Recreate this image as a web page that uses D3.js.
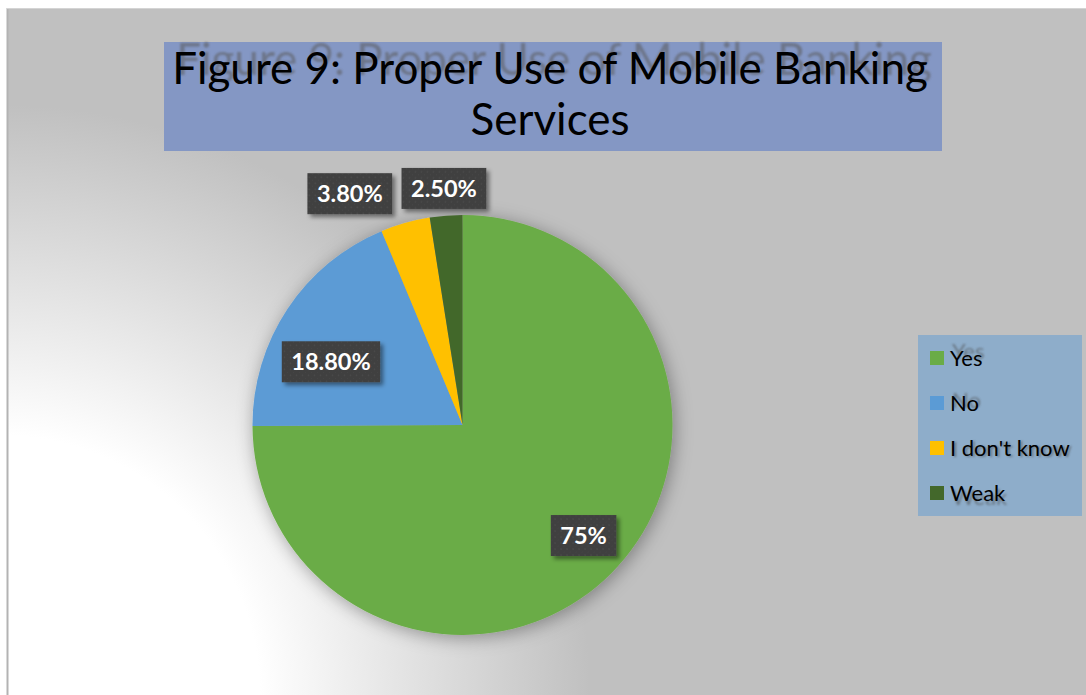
<!DOCTYPE html>
<html>
<head>
<meta charset="utf-8">
<script src="https://cdn.jsdelivr.net/npm/d3@7/dist/d3.min.js"></script>
<style>
  html, body { margin: 0; padding: 0; background: #ffffff; }
  svg { display: block; }
</style>
</head>
<body>
<svg id="chart" width="1086" height="695"></svg>
<script>
// Survey answers: proper use of mobile banking services
const categories = ["Yes", "No", "I don't know", "Weak"];
const values = [75, 18.8, 3.8, 2.5];
const valueLabels = ["75%", "18.80%", "3.80%", "2.50%"];
const sliceColors = ["#6aac46", "#5b9bd5", "#ffc000", "#43682b"];
const titleLines = ["Figure 9: Proper Use of Mobile Banking", "Services"];

// label placement: radial position as a fraction of the radius, plus a nudge
const labelRadius = [0.78, 0.70, 1.13, 1.13];
const labelNudge = [[5, -5], [-9, 18], [-48, -3], [0, 0]];
// offset of the soft perspective shadow under each legend entry
const legendShadowDy = [-6.5, -2.5, 1, 4];

const W = 1086, H = 695;
const svg = d3.select("#chart");
const defs = svg.append("defs");

// background: radial fade from white (lower left) to grey
const bg = defs.append("radialGradient")
  .attr("id", "bgGrad")
  .attr("gradientUnits", "userSpaceOnUse")
  .attr("cx", 0).attr("cy", H).attr("r", 590);
bg.append("stop").attr("offset", 0).attr("stop-color", "#ffffff");
bg.append("stop").attr("offset", 0.44).attr("stop-color", "#ffffff");
bg.append("stop").attr("offset", 1).attr("stop-color", "#c0c0c0");

// soft halo around the pie
const halo = defs.append("filter").attr("id", "pieHalo")
  .attr("x", "-20%").attr("y", "-20%").attr("width", "140%").attr("height", "140%");
halo.append("feDropShadow").attr("dx", 2).attr("dy", 3)
  .attr("stdDeviation", 9).attr("flood-color", "#000").attr("flood-opacity", 0.35);

// shadow under the value boxes
const boxShadow = defs.append("filter").attr("id", "boxShadow")
  .attr("x", "-20%").attr("y", "-30%").attr("width", "150%").attr("height", "170%");
boxShadow.append("feDropShadow").attr("dx", 3).attr("dy", 3)
  .attr("stdDeviation", 2.2).attr("flood-color", "#000").attr("flood-opacity", 0.45);

// blurred ghost copy of text
const ghost = defs.append("filter").attr("id", "ghostBlur")
  .attr("x", "-5%").attr("y", "-30%").attr("width", "110%").attr("height", "160%");
ghost.append("feGaussianBlur").attr("stdDeviation", 1.3);

// fine dotted texture for the value boxes
const pat = defs.append("pattern").attr("id", "boxTex")
  .attr("patternUnits", "userSpaceOnUse").attr("width", 6).attr("height", 6);
pat.append("rect").attr("width", 6).attr("height", 6).attr("fill", "#3f3f3f");
pat.append("circle").attr("cx", 1.5).attr("cy", 1.5).attr("r", 1).attr("fill", "#4b4b4b");
pat.append("circle").attr("cx", 4.5).attr("cy", 4.5).attr("r", 0.8).attr("fill", "#474747");

// chart area
svg.append("rect")
  .attr("x", 8).attr("y", 8).attr("width", W - 8).attr("height", H - 8)
  .attr("fill", "url(#bgGrad)");
svg.append("line").attr("x1", 7.5).attr("x2", 7.5).attr("y1", 8).attr("y2", H)
  .attr("stroke", "#b3b3b3").attr("stroke-width", 2);
svg.append("line").attr("x1", 7).attr("x2", W).attr("y1", 8.5).attr("y2", 8.5)
  .attr("stroke", "#d4d4d4").attr("stroke-width", 1);

// title block
const titleBox = { x: 164, y: 42, w: 778, h: 109 };
svg.append("rect")
  .attr("x", titleBox.x).attr("y", titleBox.y)
  .attr("width", titleBox.w).attr("height", titleBox.h)
  .attr("fill", "#8497c4");
const titleCx = titleBox.x + titleBox.w / 2 - 3;
const titleFont = "Lato, 'Open Sans', sans-serif";
const titleSize = 44;
svg.append("text")
  .attr("x", titleCx + 4).attr("y", 84 - 9)
  .attr("text-anchor", "middle")
  .attr("font-family", titleFont).attr("font-size", titleSize)
  .attr("fill", "#5a5a5a").attr("opacity", 0.55)
  .attr("filter", "url(#ghostBlur)")
  .text(titleLines[0]);
svg.selectAll("text.title").data(titleLines).enter().append("text")
  .attr("class", "title")
  .attr("x", titleCx)
  .attr("y", (d, i) => 84 + i * 51)
  .attr("text-anchor", "middle")
  .attr("font-family", titleFont).attr("font-size", titleSize)
  .attr("fill", "#000000")
  .text(d => d);

// pie
const cx = 462.5, cy = 425, r = 210;
const pie = d3.pie().sort(null).value(d => d);
const arcs = pie(values);
const arc = d3.arc().innerRadius(0).outerRadius(r);
const color = d3.scaleOrdinal().domain(categories).range(sliceColors);

const pieG = svg.append("g").attr("transform", `translate(${cx},${cy})`);
pieG.append("g").attr("filter", "url(#pieHalo)")
  .selectAll("path").data(arcs).enter().append("path")
  .attr("d", arc)
  .attr("fill", (d, i) => color(categories[i]));

// value labels
const labelG = pieG.selectAll("g.lbl").data(arcs).enter().append("g")
  .attr("class", "lbl")
  .attr("transform", (d, i) => {
    const a = (d.startAngle + d.endAngle) / 2;
    const rr = r * labelRadius[i];
    const x = Math.sin(a) * rr + labelNudge[i][0];
    const y = -Math.cos(a) * rr + labelNudge[i][1];
    return `translate(${x},${y})`;
  });
labelG.each(function (d, i) {
  const g = d3.select(this);
  const t = g.append("text")
    .attr("text-anchor", "middle").attr("dy", "0.37em")
    .attr("font-family", titleFont).attr("font-weight", 700)
    .attr("font-size", 23.5).attr("fill", "#ffffff")
    .text(valueLabels[i]);
  const tw = t.node().getComputedTextLength();
  const bw = tw + 19, bh = 41;
  g.insert("rect", "text")
    .attr("x", -bw / 2).attr("y", -bh / 2)
    .attr("width", bw).attr("height", bh)
    .attr("fill", "url(#boxTex)")
    .attr("filter", "url(#boxShadow)");
});

// legend
const legBox = { x: 918, y: 335, w: 164, h: 181 };
svg.append("rect")
  .attr("x", legBox.x).attr("y", legBox.y)
  .attr("width", legBox.w).attr("height", legBox.h)
  .attr("fill", "#8eadca");
const legY = d3.scalePoint().domain(categories).range([358, 493]);
const legSize = 22;
const legG = svg.selectAll("g.leg").data(categories).enter().append("g")
  .attr("class", "leg")
  .attr("transform", d => `translate(930,${legY(d)})`);
legG.append("rect")
  .attr("x", 0).attr("y", -7).attr("width", 14).attr("height", 14)
  .attr("fill", d => color(d));
legG.append("text")
  .attr("x", 20 + 2).attr("y", (d, i) => legendShadowDy[i])
  .attr("dy", "0.35em")
  .attr("font-family", titleFont).attr("font-size", legSize)
  .attr("fill", "#4a4a4a").attr("opacity", 0.55)
  .attr("filter", "url(#ghostBlur)")
  .text(d => d);
legG.append("text")
  .attr("x", 20).attr("dy", "0.35em")
  .attr("font-family", titleFont).attr("font-size", legSize)
  .attr("fill", "#000000")
  .text(d => d);
</script>
</body>
</html>
